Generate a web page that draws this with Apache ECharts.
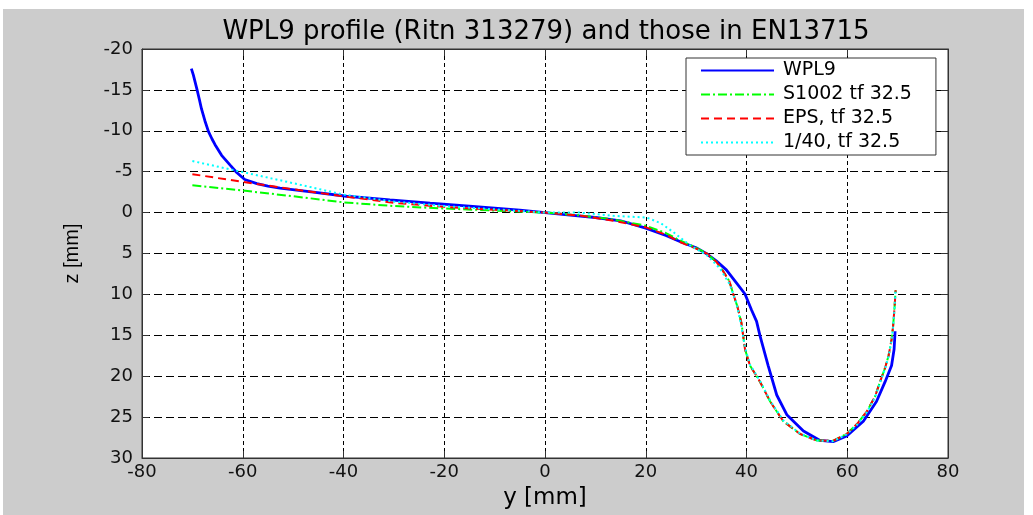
<!DOCTYPE html>
<html>
<head>
<meta charset="utf-8">
<script src="https://cdn.jsdelivr.net/npm/echarts@6/dist/echarts.min.js"></script>
<style>
  body { margin: 0; background: #fff; }
  .bg { position: absolute; left: 3px; top: 9px; width: 1021px; height: 506px; background: #cccccc; }
  .profileChart { position: absolute; left: 0; top: 0; width: 1033px; height: 515px; }
</style>
</head>
<body>
<div class="bg"></div>
<div class="profileChart"></div>
<script>
  // lateral position y [mm] and height z [mm]
  const wplY = [-70.2, -69.8, -69.1, -68.6, -68.2, -67.5, -66.8, -66.1, -65.5, -64.2, -62.5, -61.2, -59.6, -57.2, -55, -52.6, -46, -39.4, -30.8, -22.8, -15, -10, -5, 0, 5, 10, 15, 20, 24, 27, 30, 32, 34, 36, 38, 39.7, 41, 42, 42.7, 44.3, 46, 48, 51.3, 54.6, 57.2, 59.9, 63.2, 65.8, 67.5, 68.8, 69.3, 69.5]
  const wplZ = [-17.6, -16.8, -15.1, -13.8, -12.7, -11.2, -9.9, -9.0, -8.3, -7.0, -5.8, -4.9, -4.05, -3.55, -3.25, -3.0, -2.5, -2.0, -1.55, -1.15, -0.8, -0.55, -0.3, 0, 0.3, 0.6, 1.0, 1.9, 2.8, 3.6, 4.3, 5.0, 5.9, 7.0, 8.6, 9.95, 11.9, 13.3, 15.1, 18.7, 22.3, 24.7, 26.7, 27.85, 28.0, 27.3, 25.5, 23.1, 20.7, 18.7, 16.7, 14.5]

  const s1002Y = [-70, -60, -50, -40, -30, -20, -10, 0, 7, 13.6, 20, 24, 26.8, 30, 32.1, 34, 35.4, 36.6, 37.4, 38.2, 39, 39.7, 40.7, 42.7, 44.7, 47.3, 50.6, 53.9, 57.2, 59.9, 62, 63.9, 65.5, 66.5, 67.5, 68.2, 68.8, 69.1, 69.4, 69.6]
  const s1002Z = [-3.35, -2.7, -2.0, -1.25, -0.8, -0.5, -0.25, 0, 0.35, 0.85, 1.6, 2.5, 3.4, 4.3, 5.0, 6.0, 7.2, 8.4, 10, 11.5, 13.5, 16.7, 18.7, 20.7, 23.1, 25.5, 27.05, 27.85, 27.9, 27.05, 25.8, 24.3, 22.5, 20.7, 19.0, 17.5, 15.5, 13.9, 11.5, 9.5]

  const epsY = [-70, -60, -50, -40, -30, -20, -10, 0, 7, 13.6, 20, 24, 26.8, 30, 32.1, 34, 35.4, 36.6, 37.4, 38.2, 39, 39.7, 40.7, 42.7, 44.7, 47.3, 50.6, 53.9, 57.2, 59.9, 62, 63.9, 65.5, 66.5, 67.5, 68.2, 68.8, 69.1, 69.4, 69.6]
  const epsZ = [-4.7, -3.75, -2.85, -2.0, -1.2, -0.7, -0.35, 0, 0.37, 1.0, 1.8, 2.7, 3.6, 4.4, 5.0, 6.0, 7.2, 8.4, 10, 11.5, 13.5, 16.7, 18.7, 20.7, 23.1, 25.5, 27.05, 27.85, 27.9, 27.05, 25.8, 24.3, 22.5, 20.7, 19.0, 17.5, 15.5, 13.9, 11.5, 9.5]

  const r40Y = [-70, -60, -50, -40, -30, -20, -10, 0, 6.9, 13.6, 20.2, 23, 25.5, 28.8, 32.1, 34.7, 36.7, 38, 39, 39.7, 40.7, 42.7, 44.7, 47.3, 50.6, 53.9, 57.2, 59.9, 62, 63.9, 65.5, 66.5, 67.5, 68.2, 68.8, 69.1, 69.4, 69.6]
  const r40Z = [-6.3, -4.95, -3.6, -2.2, -1.35, -0.8, -0.4, 0, 0.0, 0.4, 0.6, 1.3, 2.4, 4.0, 5.2, 6.8, 8.8, 11.1, 13.9, 16.5, 18.6, 20.6, 23.0, 25.4, 27.0, 27.85, 27.95, 27.1, 25.9, 24.4, 22.6, 20.8, 19.1, 17.6, 15.6, 14.0, 11.6, 9.4]

  const seriesNames = ['WPL9', 'S1002 tf 32.5', 'EPS, tf 32.5', '1/40, tf 32.5']

  const pairs = (xs, zs) => xs.map((x, i) => [x, zs[i]])
  const wide = 'DejaVu Sans, sans-serif'
  const narrow = 'Liberation Sans, Arial, sans-serif'

  const chart = echarts.init(document.getElementsByClassName('profileChart')[0])
  chart.setOption({
    animation: false,
    backgroundColor: 'transparent',
    title: {
      text: 'WPL9 profile (Ritn 313279) and those in EN13715',
      left: 541,
      textAlign: 'center',
      top: 14,
      textStyle: { fontFamily: wide, fontSize: 26, fontWeight: 'normal', color: '#000' }
    },
    grid: {
      left: 142, top: 49, width: 806, height: 419,
      show: true, backgroundColor: '#fff', borderColor: '#333', borderWidth: 1
    },
    legend: {
      orient: 'vertical',
      left: 686, top: 58,
      padding: [3, 24, 3, 14],
      itemGap: 5,
      itemWidth: 73,
      itemHeight: 14,
      backgroundColor: '#fff',
      borderColor: '#333',
      borderWidth: 1,
      borderRadius: 0,
      itemStyle: { opacity: 0 },
      textStyle: { fontFamily: wide, fontSize: 19, color: '#000', padding: [0, 0, 0, 4] },
      data: seriesNames
    },
    xAxis: [{
      type: 'value', min: -80, max: 80, interval: 20, position: 'bottom',
      name: 'y [mm]', nameLocation: 'middle', nameGap: 29,
      nameTextStyle: { fontFamily: wide, fontSize: 23, color: '#000' },
      axisLine: { show: true, onZero: false, lineStyle: { color: '#333' } },
      axisTick: { show: true, inside: true, length: 7, lineStyle: { color: '#333' } },
      axisLabel: { fontFamily: wide, fontSize: 18, color: '#111', margin: 5 },
      splitLine: { show: true, lineStyle: { color: '#000', type: [4, 3], width: 1 } }
    }, {
      type: 'value', min: -80, max: 80, interval: 20, position: 'top',
      axisLine: { show: true, onZero: false, lineStyle: { color: '#333' } },
      axisTick: { show: true, inside: true, length: 7, lineStyle: { color: '#333' } },
      axisLabel: { show: false },
      splitLine: { show: false }
    }],
    yAxis: [{
      type: 'value', min: -20, max: 30, interval: 5, inverse: true, position: 'left',
      name: 'z [mm]', nameLocation: 'middle', nameGap: 60,
      nameTextStyle: { fontFamily: narrow, fontSize: 20, color: '#000' },
      axisLine: { show: true, onZero: false, lineStyle: { color: '#333' } },
      axisTick: { show: true, inside: true, length: 7, lineStyle: { color: '#333' } },
      axisLabel: { fontFamily: wide, fontSize: 18, color: '#111', margin: 9 },
      splitLine: { show: true, lineStyle: { color: '#000', type: [8, 4], width: 1 } }
    }, {
      type: 'value', min: -20, max: 30, interval: 5, inverse: true, position: 'right',
      axisLine: { show: true, onZero: false, lineStyle: { color: '#333' } },
      axisTick: { show: true, inside: true, length: 7, lineStyle: { color: '#333' } },
      axisLabel: { show: false },
      splitLine: { show: false }
    }],
    series: [
      {
        name: seriesNames[0], type: 'line', symbol: 'none',
        lineStyle: { color: '#0000ff', width: 2.8, type: 'solid' },
        itemStyle: { color: '#0000ff' },
        data: pairs(wplY, wplZ)
      },
      {
        name: seriesNames[1], type: 'line', symbol: 'none',
        lineStyle: { color: '#00ff00', width: 2, type: [9, 3, 2, 3] },
        itemStyle: { color: '#00ff00' },
        data: pairs(s1002Y, s1002Z)
      },
      {
        name: seriesNames[2], type: 'line', symbol: 'none',
        lineStyle: { color: '#ff0000', width: 2, type: [8, 5] },
        itemStyle: { color: '#ff0000' },
        data: pairs(epsY, epsZ)
      },
      {
        name: seriesNames[3], type: 'line', symbol: 'none',
        lineStyle: { color: '#00ffff', width: 2, type: [2, 3] },
        itemStyle: { color: '#00ffff' },
        data: pairs(r40Y, r40Z)
      }
    ]
  })
</script>
</body>
</html>
